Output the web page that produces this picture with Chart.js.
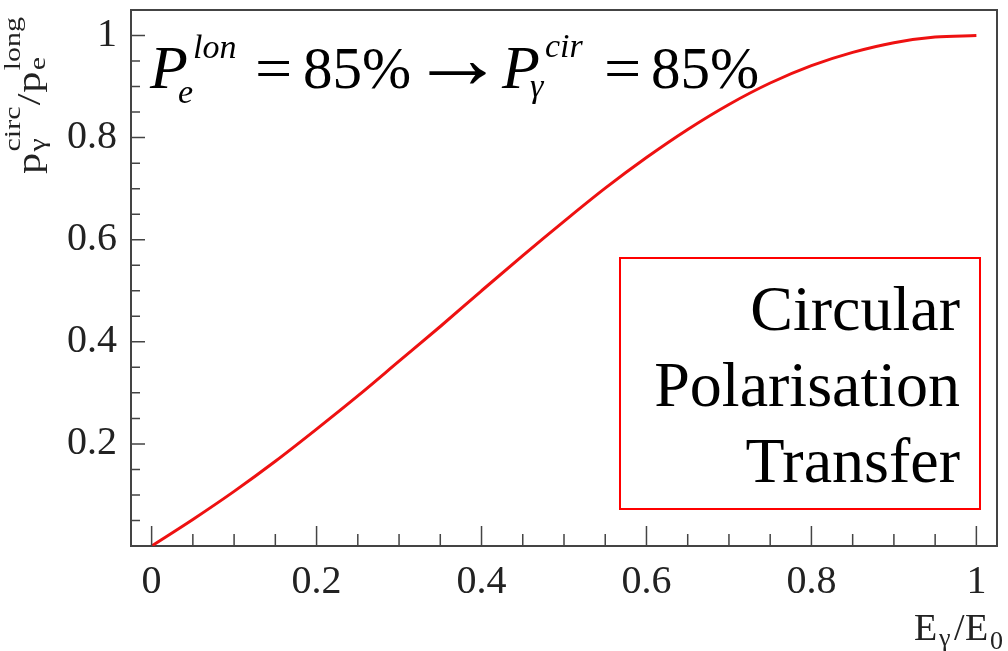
<!DOCTYPE html>
<html>
<head>
<meta charset="utf-8">
<script src="https://cdn.jsdelivr.net/npm/chart.js@4.4.1/dist/chart.umd.min.js"></script>
<style>
  body { margin: 0; background: #fff; }
  canvas { display: block; }
  .warm { position: absolute; left: -9999px; top: 0; font-family: "Liberation Serif"; }
</style>
</head>
<body>
<div class="warm">Serif 0.2 <i>Pe</i> &#947; &#8594;</div>
<canvas id="transferChart" width="1008" height="651"></canvas>
<script>
// photon energy fraction E_gamma / E_0
const energyRatio = [0, 0.05, 0.1, 0.15, 0.2, 0.25, 0.3, 0.35, 0.4, 0.45, 0.5,
  0.55, 0.6, 0.65, 0.7, 0.75, 0.8, 0.85, 0.9, 0.95, 1.0];
// circular polarisation of photon over longitudinal polarisation of electron
const polTransfer = [0, 0.052, 0.107, 0.166, 0.229, 0.294, 0.362, 0.430, 0.500, 0.569, 0.636,
  0.701, 0.761, 0.816, 0.865, 0.907, 0.941, 0.967, 0.986, 0.997, 1.0];

// labelled ticks
const xTicks = [0, 0.2, 0.4, 0.6, 0.8, 1];
const yTicks = [0.2, 0.4, 0.6, 0.8, 1];
// small ticks every 0.05
const xMinorTicks = [0.05, 0.1, 0.15, 0.25, 0.3, 0.35, 0.45, 0.5, 0.55, 0.65, 0.7, 0.75, 0.85, 0.9, 0.95];
const yMinorTicks = [0.05, 0.1, 0.15, 0.25, 0.3, 0.35, 0.45, 0.5, 0.55, 0.65, 0.7, 0.75, 0.85, 0.9, 0.95];

const boxLines = ['Circular', 'Polarisation', 'Transfer'];

const SERIF = '"Liberation Serif", serif';
const AXIS = '#444';

// draws a run of text pieces, each {t, x, y, size, italic, sx}
function drawPieces(ctx, pieces) {
  pieces.forEach(p => {
    ctx.font = (p.italic ? 'italic ' : '') + p.size + 'px ' + SERIF;
    if (p.sx) {
      ctx.save();
      ctx.translate(p.x, p.y);
      ctx.scale(p.sx, 1);
      ctx.fillText(p.t, 0, 0);
      ctx.restore();
    } else {
      ctx.fillText(p.t, p.x, p.y);
    }
  });
}

// frame, inward ticks and all the annotations
const decorations = {
  id: 'decorations',
  beforeDraw(chart) {
    const ctx = chart.ctx;
    ctx.save();
    ctx.fillStyle = '#fff';
    ctx.fillRect(0, 0, chart.width, chart.height);
    ctx.restore();
  },
  afterDraw(chart) {
    const ctx = chart.ctx;
    const a = chart.chartArea;
    const xs = chart.scales.x, ys = chart.scales.y;
    ctx.save();

    // top and right frame lines
    ctx.strokeStyle = AXIS;
    ctx.lineWidth = 2;
    ctx.beginPath();
    ctx.moveTo(a.left, a.top); ctx.lineTo(a.right, a.top); ctx.lineTo(a.right, a.bottom);
    ctx.stroke();

    // inward ticks
    ctx.lineWidth = 1.5;
    ctx.beginPath();
    xTicks.forEach(v => { const px = xs.getPixelForValue(v); ctx.moveTo(px, a.bottom); ctx.lineTo(px, a.bottom - 20); });
    xMinorTicks.forEach(v => { const px = xs.getPixelForValue(v); ctx.moveTo(px, a.bottom); ctx.lineTo(px, a.bottom - 12); });
    yTicks.forEach(v => { const py = ys.getPixelForValue(v); ctx.moveTo(a.left, py); ctx.lineTo(a.left + 14, py); });
    yMinorTicks.forEach(v => { const py = ys.getPixelForValue(v); ctx.moveTo(a.left, py); ctx.lineTo(a.left + 9, py); });
    ctx.stroke();

    ctx.fillStyle = '#000';
    ctx.textBaseline = 'alphabetic';
    ctx.textAlign = 'left';

    // P_e^lon = 85% -> P_gamma^cir = 85%
    drawPieces(ctx, [
      { t: 'P', x: 150, y: 88, size: 62, italic: true },
      { t: 'lon', x: 193, y: 58, size: 34, italic: true },
      { t: 'e', x: 178, y: 103, size: 34, italic: true },
      { t: '=', x: 255, y: 88, size: 60, sx: 1.1 },
      { t: '85%', x: 303, y: 88, size: 59 },
      { t: '\u2192', x: 410, y: 88, size: 88, sx: 1.08 },
      { t: 'P', x: 502, y: 88, size: 62, italic: true },
      { t: 'cir', x: 545, y: 57, size: 34, italic: true },
      { t: '\u03b3', x: 530, y: 97, size: 34, italic: true },
      { t: '=', x: 604, y: 88, size: 60, sx: 1.1 },
      { t: '85%', x: 651, y: 88, size: 59 }
    ]);

    // red box with its caption
    ctx.strokeStyle = '#ff0000';
    ctx.lineWidth = 2;
    ctx.strokeRect(620, 258, 360, 251);
    ctx.textAlign = 'right';
    ctx.font = '64px ' + SERIF;
    boxLines.forEach((s, i) => ctx.fillText(s, 960, 330 + i * 76));

    // x axis title E_gamma / E_0
    ctx.fillStyle = '#222';
    ctx.textAlign = 'left';
    drawPieces(ctx, [
      { t: 'E', x: 914, y: 640, size: 38 },
      { t: '\u03b3', x: 939, y: 646, size: 26 },
      { t: '/', x: 954, y: 640, size: 38 },
      { t: 'E', x: 965, y: 640, size: 38 },
      { t: '0', x: 990, y: 649, size: 26 }
    ]);

    // y axis title p_gamma^circ / p_e^long, rotated
    ctx.translate(40, 174);
    ctx.rotate(-Math.PI / 2);
    ctx.scale(1.25, 1);
    drawPieces(ctx, [
      { t: 'p', x: 0, y: 0, size: 34 },
      { t: '\u03b3', x: 18, y: 5, size: 24 },
      { t: 'circ', x: 18, y: -20, size: 24 },
      { t: '/', x: 55, y: 0, size: 34 },
      { t: 'p', x: 65, y: 0, size: 34 },
      { t: 'e', x: 83, y: 5, size: 24 },
      { t: 'long', x: 83, y: -20, size: 24 }
    ]);
    ctx.restore();
  }
};

function noScalePadding(s) {
  s.paddingTop = 0; s.paddingBottom = 0; s.paddingLeft = 0; s.paddingRight = 0;
}

function drawChart() {
  const context = document.getElementById('transferChart').getContext('2d');
  new Chart(context, {
    type: 'line',
    data: {
      datasets: [{
        data: energyRatio.map((x, i) => ({ x: x, y: polTransfer[i] })),
        borderColor: '#ee1111', borderWidth: 3, pointRadius: 0,
        cubicInterpolationMode: 'monotone', fill: false
      }]
    },
    options: {
      responsive: false, animation: false, devicePixelRatio: 1,
      layout: { padding: { top: 10, right: 11, left: 0, bottom: 0 } },
      plugins: { legend: { display: false }, tooltip: { enabled: false } },
      scales: {
        x: {
          type: 'linear', position: 'bottom', min: -0.025, max: 1.025,
          afterFit: s => { s.height = 105; noScalePadding(s); },
          afterBuildTicks: s => { s.ticks = xTicks.map(v => ({ value: v })); },
          grid: { display: false, drawTicks: false },
          border: { display: true, color: AXIS, width: 2 },
          ticks: { font: { family: SERIF, size: 40 }, color: '#222', padding: 12, maxRotation: 0,
            autoSkip: false, callback: v => String(v) }
        },
        y: {
          type: 'linear', min: 0, max: 1.05,
          afterFit: s => { s.width = 131; noScalePadding(s); },
          afterBuildTicks: s => { s.ticks = yTicks.map(v => ({ value: v })); },
          grid: { display: false, drawTicks: false },
          border: { display: true, color: AXIS, width: 2 },
          ticks: { font: { family: SERIF, size: 40 }, color: '#222', padding: 14,
            autoSkip: false, callback: v => String(v) }
        }
      }
    },
    plugins: [decorations]
  });
}

// wait for the serif faces so the canvas does not fall back
Promise.all([
  document.fonts.load('40px "Liberation Serif"'),
  document.fonts.load('italic 40px "Liberation Serif"')
]).then(drawChart, drawChart);
</script>
</body>
</html>
